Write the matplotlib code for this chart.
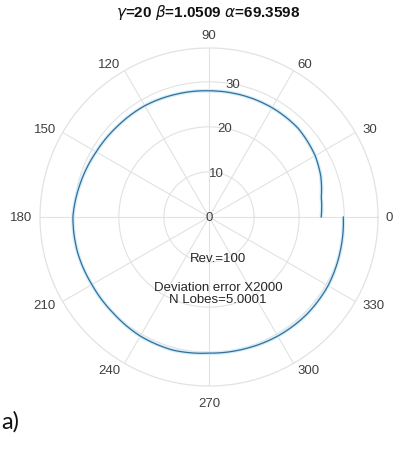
import numpy as np
import matplotlib
matplotlib.use("Agg")
import matplotlib.pyplot as plt

plt.rcParams['font.family'] = ['Liberation Sans', 'DejaVu Sans']

# Trace of the profile (angle in degrees, radius)
theta_deg = [0, 10, 20, 30, 45, 60, 75, 90, 105, 120, 135, 150, 165,
             180, 195, 210, 225, 240, 255, 270, 285, 300, 315, 330, 345, 360]
radius = [24.9, 25.3, 26.4, 27.2, 27.9, 28.0, 28.0, 28.0, 28.2, 28.5, 28.6,
          28.9, 29.5, 30.2, 30.2, 30.0, 30.1, 30.5, 30.6, 30.2, 30.3, 30.5,
          30.6, 30.5, 30.1, 29.8]

r_ticks = [0, 10, 20, 30]
r_max = 37.5
theta_ticks = list(range(0, 360, 30))

title = r'$\gamma$=20 $\beta$=1.0509 $\alpha$=69.3598'
notes = ['Rev.=100', 'Deviation error X2000', 'N Lobes=5.0001']

W, H = 394, 452
fig = plt.figure(figsize=(W / 100, H / 100), dpi=100)
ax = fig.add_axes([40 / W, 65 / H, 338 / W, 338 / H], projection='polar')

grid_col = '#e2e2e2'
label_col = '#404040'

ax.set_rlim(0, r_max)
ax.set_rticks(r_ticks[1:])
ax.set_thetagrids(theta_ticks, labels=[])
ax.set_yticklabels([])
ax.grid(True, color=grid_col, linewidth=0.8)
ax.spines['polar'].set_color(grid_col)
ax.spines['polar'].set_linewidth(0.9)
ax.tick_params(length=0)

th = np.deg2rad(theta_deg)
halo, = ax.plot(th, radius, color='#d3ecf7', linewidth=2.6,
                solid_capstyle='butt')
trace, = ax.plot(th, radius, color='#2f6f9f', linewidth=0.9)
# let the polar transform bend each segment along the angle
for ln in (halo, trace):
    ln.recache()
    ln.get_path()._interpolation_steps = 40

# angle labels outside the rim
for a in theta_ticks:
    t = np.deg2rad(a)
    c, s = np.cos(t), np.sin(t)
    ha = 'left' if c > 0.05 else ('right' if c < -0.05 else 'center')
    va = 'bottom' if s > 0.95 else ('top' if s < -0.95 else 'center')
    gap = 5.5 if va == 'center' else 5.0
    if s < -0.95:
        gap = 8.0
    ax.annotate(str(a), xy=(t, r_max), xytext=(gap * c, gap * s),
                textcoords='offset points', ha=ha, va=va,
                fontsize=9.5, color=label_col, annotation_clip=False)

# radial labels along the 80 degree direction
for r in r_ticks:
    ax.text(np.deg2rad(80) if r else 0, r, str(r), ha='center', va='center',
            fontsize=9.5, color=label_col)

ax.text(0.527, 0.379, notes[0], transform=ax.transAxes, ha='center',
        va='center', fontsize=9.5, color='#262626')
ax.text(0.527, 0.292, notes[1], transform=ax.transAxes, ha='center',
        va='center', fontsize=9.5, color='#262626')
ax.text(0.527, 0.256, notes[2], transform=ax.transAxes, ha='center',
        va='center', fontsize=9.5, color='#262626')

fig.text(208 / W, 1 - 13 / H, title, ha='center', va='center',
         fontsize=11, fontweight='bold', color='#111111')

fig.text(1 / W, 1 - 422 / H, 'a)', ha='left', va='center',
         fontsize=17, family=['Lato', 'DejaVu Sans'], color='#111111')

fig.savefig('out.png', dpi=100)
